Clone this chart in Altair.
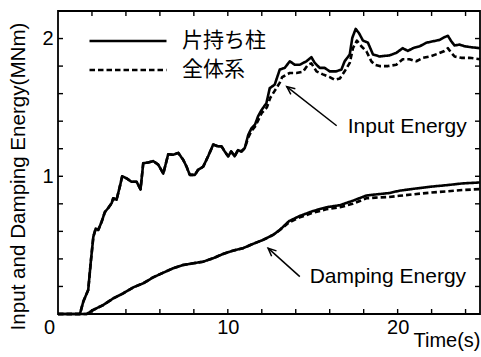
import altair as alt
import pandas as pd

SOLID = "片持ち柱"
DASHED = "全体系"

# Input energy, 片持ち柱 (solid)
in_solid_t = [0, 1.29, 1.49, 1.78, 1.94, 2.08, 2.22, 2.37, 2.57, 2.76,
              2.96, 3.16, 3.25, 3.45, 3.65, 3.78, 4.04, 4.33, 4.63, 4.86,
              5.02, 5.31, 5.61, 5.9, 6.2, 6.49, 6.78, 7.08, 7.37, 7.57,
              7.76, 8.06, 8.25, 8.55, 8.84, 9.14, 9.43, 9.63, 9.82, 10.02,
              10.2, 10.4, 10.6, 10.8, 11.0, 11.2, 11.4, 11.6, 11.78, 11.98,
              12.27, 12.47, 12.76, 13.06, 13.35, 13.65, 13.94, 14.24, 14.63, 14.92,
              15.12, 15.41, 15.7, 16.0, 16.39, 16.69, 16.88, 17.18, 17.33, 17.53,
              17.72, 17.96, 18.25, 18.55, 18.94, 19.53, 19.92, 20.3, 20.6, 20.9,
              21.3, 21.7, 22.08, 22.47, 22.76, 22.96, 23.16, 23.35, 23.65, 23.94,
              24.33, 24.85]
in_solid_v = [0, 0, 0.09, 0.175, 0.39, 0.56, 0.62, 0.61, 0.67, 0.74,
              0.77, 0.805, 0.84, 0.83, 0.93, 1.0, 0.985, 0.96, 0.96, 0.905,
              1.095, 1.10, 1.11, 1.085, 1.02, 1.16, 1.156, 1.17, 1.12, 1.07,
              1.01, 1.01, 1.047, 1.07, 1.145, 1.23, 1.217, 1.217, 1.18, 1.145,
              1.18, 1.145, 1.19, 1.18, 1.205, 1.30, 1.35, 1.375, 1.435, 1.48,
              1.53, 1.64, 1.665, 1.775, 1.787, 1.835, 1.81, 1.81, 1.835, 1.865,
              1.823, 1.787, 1.787, 1.762, 1.762, 1.775, 1.835, 1.884, 2.005, 2.07,
              2.04, 1.985, 1.97, 1.884, 1.87, 1.878, 1.896, 1.93, 1.91, 1.93,
              1.944, 1.97, 1.98, 1.99, 2.01, 2.02, 1.98, 1.95, 1.956, 1.944,
              1.937, 1.93]

# Input energy, 全体系 (dashed): overlaps the solid curve up to t = 11
in_dash_t = in_solid_t[:45] + [
    11.2, 11.4, 11.6, 11.8, 12.0, 12.3, 12.5, 12.76, 13.06, 13.2,
    13.35, 13.65, 14.04, 14.43, 14.72, 14.92, 15.22, 15.6, 16.0, 16.3,
    16.6, 16.88, 17.18, 17.37, 17.6, 17.86, 18.16, 18.45, 18.65, 18.94,
    19.43, 19.92, 20.3, 20.7, 21.1, 21.5, 21.9, 22.37, 22.76, 22.96,
    23.16, 23.35, 23.75, 24.24, 24.85]
in_dash_v = in_solid_v[:45] + [
    1.28, 1.33, 1.36, 1.41, 1.46, 1.50, 1.57, 1.62, 1.68, 1.72,
    1.73, 1.75, 1.75, 1.76, 1.81, 1.82, 1.762, 1.74, 1.72, 1.70,
    1.71, 1.762, 1.823, 1.93, 1.985, 1.944, 1.908, 1.835, 1.81, 1.80,
    1.80, 1.81, 1.85, 1.85, 1.835, 1.86, 1.87, 1.89, 1.91, 1.93,
    1.896, 1.87, 1.86, 1.86, 1.85]

# Damping energy, 片持ち柱 (solid)
dm_solid_t = [0, 1.69, 2.08, 2.66, 3.25, 3.84, 4.43, 5.02, 5.6, 6.2,
              6.78, 7.37, 7.96, 8.55, 9.14, 9.72, 10.3, 10.9, 11.5, 12.08,
              12.67, 13.06, 13.6, 14.2, 15.0, 15.8, 16.6, 17.35, 18.16, 18.7,
              19.5, 20.1, 21.0, 22.0, 22.86, 23.8, 24.85]
dm_solid_v = [0, 0, 0.03, 0.065, 0.113, 0.15, 0.193, 0.223, 0.266, 0.30,
              0.332, 0.356, 0.368, 0.38, 0.405, 0.436, 0.46, 0.478, 0.51, 0.538,
              0.575, 0.61, 0.674, 0.71, 0.747, 0.775, 0.79, 0.822, 0.86, 0.868,
              0.878, 0.895, 0.91, 0.925, 0.935, 0.948, 0.955]

# Damping energy, 全体系 (dashed): overlaps the solid curve up to t = 13
dm_dash_t = dm_solid_t[:22] + [13.6, 14.2, 15.0, 15.8, 16.6, 17.35, 18.16, 18.7,
                               19.5, 20.1, 21.0, 22.0, 22.86, 23.8, 24.85]
dm_dash_v = dm_solid_v[:22] + [0.665, 0.70, 0.735, 0.76, 0.775, 0.80, 0.84, 0.845,
                               0.85, 0.858, 0.87, 0.882, 0.89, 0.90, 0.907]

x_tick_values = [2, 4, 6, 8, 10, 12, 14, 16, 18, 20, 22, 24]
y_tick_values = [0.2, 0.4, 0.6, 0.8, 1.0, 1.2, 1.4, 1.6, 1.8, 2.0]
x_label_values = [10, 20]
y_label_values = [1, 2]
origin_label = ["0"]

ann_text = ["Input Energy", "Damping Energy"]
ann_tx = [17.06, 14.82]
ann_ty = [1.36, 0.27]
arrow_tail_x = [16.41, 14.24]
arrow_tail_y = [1.367, 0.271]
arrow_head_x = [13.47, 12.37]
arrow_head_y = [1.651, 0.478]
arrow_angle = [308, 312]

X_MIN, X_MAX = 0, 24.85
Y_MIN, Y_MAX = 0, 2.2

rows = []
for curve, series, ts, vs in [
    ("input", SOLID, in_solid_t, in_solid_v),
    ("input", DASHED, in_dash_t, in_dash_v),
    ("damping", SOLID, dm_solid_t, dm_solid_v),
    ("damping", DASHED, dm_dash_t, dm_dash_v),
]:
    for t, v in zip(ts, vs):
        rows.append({"t": t, "v": v, "series": series, "curve": curve + series})
df = pd.DataFrame(rows)

ann = pd.DataFrame({"text": ann_text, "x": ann_tx, "y": ann_ty,
                    "tx": arrow_tail_x, "ty": arrow_tail_y,
                    "hx": arrow_head_x, "hy": arrow_head_y, "ang": arrow_angle})

W, H = 422, 303
TICK = 5
tick_dx = TICK * (X_MAX - X_MIN) / W
tick_dy = TICK * (Y_MAX - Y_MIN) / H
xs = alt.Scale(domain=[X_MIN, X_MAX], nice=False, zero=False)
ys = alt.Scale(domain=[Y_MIN, Y_MAX], nice=False)

lines = alt.Chart(df).mark_line(color="black", strokeWidth=2.6, strokeCap="butt",
                                strokeJoin="round").encode(
    x=alt.X("t:Q", scale=xs, axis=alt.Axis(
        orient="bottom", values=x_label_values, format="d", ticks=False,
        domain=False, grid=False,
        labelFontSize=20, labelPadding=3, labelColor="black",
        title="Time(s)", titleFontSize=20, titleFontWeight="normal", titleColor="black",
        titleAnchor="end", titleAlign="right", titleX=W, titleY=32,
        titleBaseline="alphabetic")),
    y=alt.Y("v:Q", scale=ys, axis=alt.Axis(
        orient="left", values=y_label_values, format="d", ticks=False,
        domain=False, grid=False,
        labelFontSize=20, labelPadding=5, labelColor="black",
        title="Input and Damping Energy(MNm)",
        titleFontSize=20.6, titleFontWeight="normal", titleColor="black",
        titleX=-34, titleY=165, titleBaseline="alphabetic", titleAngle=270)),
    strokeDash=alt.StrokeDash("series:N", scale=alt.Scale(domain=[SOLID, DASHED],
                                                          range=[[1, 0], [5.5, 3]]),
                              legend=alt.Legend(
                                  orient="none", legendX=30, legendY=15.5, title=None,
                                  symbolType="stroke", symbolSize=77 * 77,
                                  symbolStrokeWidth=2.6, symbolStrokeColor="black",
                                  labelFontSize=21, labelFont="Noto Sans CJK JP",
                                  labelColor="black", labelOffset=14, clipHeight=29,
                                  rowPadding=0, padding=0)),
    detail="curve:N",
    order="t:Q",
)

# inward tick marks on all four edges of the frame
xt = pd.DataFrame({"t": x_tick_values})
xt["b0"], xt["b1"] = Y_MIN, Y_MIN + tick_dy
xt["t0"], xt["t1"] = Y_MAX, Y_MAX - tick_dy
yt = pd.DataFrame({"v": y_tick_values})
yt["l0"], yt["l1"] = X_MIN, X_MIN + tick_dx
yt["r0"], yt["r1"] = X_MAX, X_MAX - tick_dx

rule_style = dict(color="black", strokeWidth=1.4)
bottom_ticks = alt.Chart(xt).mark_rule(**rule_style).encode(
    x=alt.X("t:Q", scale=xs, axis=None), y=alt.Y("b0:Q", scale=ys, axis=None),
    y2="b1:Q")
top_ticks = alt.Chart(xt).mark_rule(**rule_style).encode(
    x=alt.X("t:Q", scale=xs, axis=None), y=alt.Y("t0:Q", scale=ys, axis=None),
    y2="t1:Q")
left_ticks = alt.Chart(yt).mark_rule(**rule_style).encode(
    y=alt.Y("v:Q", scale=ys, axis=None), x=alt.X("l0:Q", scale=xs, axis=None),
    x2="l1:Q")
right_ticks = alt.Chart(yt).mark_rule(**rule_style).encode(
    y=alt.Y("v:Q", scale=ys, axis=None), x=alt.X("r0:Q", scale=xs, axis=None),
    x2="r1:Q")

origin = alt.Chart(pd.DataFrame({"text": origin_label, "x": [0], "y": [0]})).mark_text(
    align="right", baseline="top", fontSize=20, color="black", dx=-3, dy=4).encode(
    x=alt.X("x:Q", scale=xs, axis=None), y=alt.Y("y:Q", scale=ys, axis=None),
    text="text:N")

texts = alt.Chart(ann).mark_text(align="left", baseline="middle", fontSize=21,
                                 font="Liberation Sans", color="black").encode(
    x=alt.X("x:Q", scale=xs, axis=None), y=alt.Y("y:Q", scale=ys, axis=None),
    text="text:N")
arrows = alt.Chart(ann).mark_rule(color="black", strokeWidth=1.5).encode(
    x=alt.X("tx:Q", scale=xs, axis=None), y=alt.Y("ty:Q", scale=ys, axis=None),
    x2="hx:Q", y2="hy:Q")
heads = alt.Chart(ann).mark_point(shape="M-0.45,1L0,0L0.45,1", filled=False,
                                  color="black", strokeWidth=1.5, size=260,
                                  opacity=1).encode(
    x=alt.X("hx:Q", scale=xs, axis=None), y=alt.Y("hy:Q", scale=ys, axis=None),
    angle=alt.Angle("ang:Q", scale=None))

chart = alt.layer(lines, bottom_ticks, top_ticks, left_ticks, right_ticks,
                  arrows, heads, texts, origin).resolve_axis(
    x="independent", y="independent"
).properties(
    width=W, height=H,
    autosize=alt.AutoSizeParams(type="none"),
    padding={"left": 58, "top": 11, "right": 1, "bottom": 43},
).configure(font="Liberation Sans", background="white").configure_view(
    stroke="black", strokeWidth=1.8)

chart.save("out.html", embed_options={"renderer": "svg", "actions": False})
